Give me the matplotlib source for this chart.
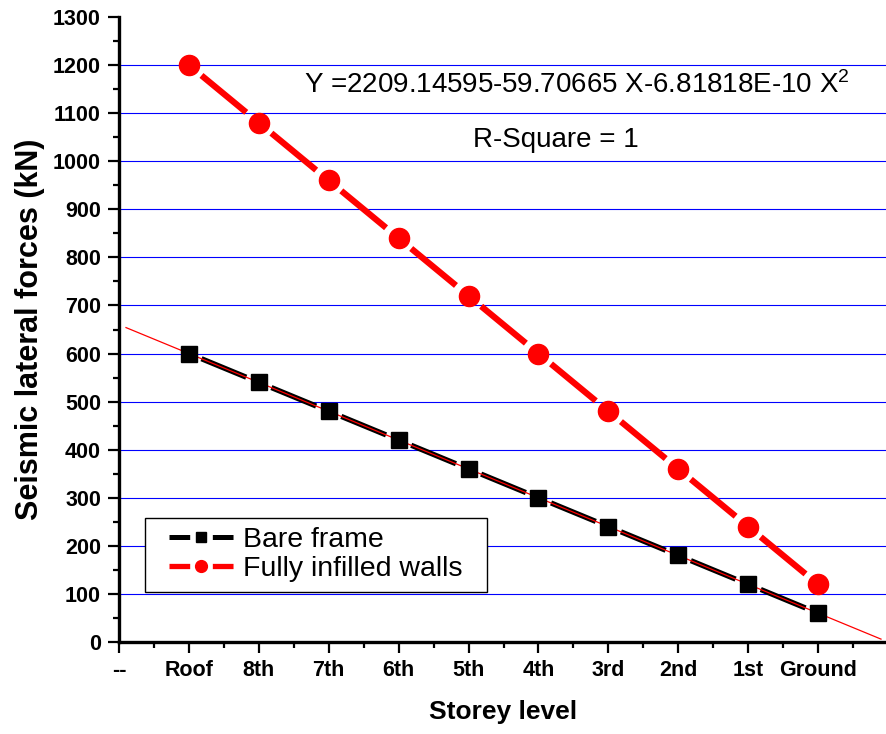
import matplotlib
matplotlib.use("Agg")
import matplotlib.pyplot as plt
import numpy as np
from matplotlib.lines import Line2D
from matplotlib.patches import Rectangle
from matplotlib.ticker import MultipleLocator

plt.rcParams['font.family'] = ['Liberation Sans', 'DejaVu Sans']
plt.rcParams['mathtext.fontset'] = 'custom'
plt.rcParams['mathtext.rm'] = 'Liberation Sans'
plt.rcParams['mathtext.it'] = 'Liberation Sans'
plt.rcParams['lines.scale_dashes'] = False

tick_labels = ["--", "Roof", "8th", "7th", "6th", "5th", "4th", "3rd", "2nd", "1st", "Ground", ""]
positions = [1, 2, 3, 4, 5, 6, 7, 8, 9, 10]
bare_frame = [600, 540, 480, 420, 360, 300, 240, 180, 120, 60]
infilled = [1200, 1080, 960, 840, 720, 600, 480, 360, 240, 120]
fit_x = [0.1, 10.9]
equation = "Y =2209.14595-59.70665 X-6.81818E-10 X$^2$"
rsq = "R-Square = 1"

fig = plt.figure(figsize=(8.87, 7.34), dpi=100)
ax = fig.add_axes([119/887, 92/734, 769/887, 625/734])

ax.set_xlim(0, 11)
ax.set_ylim(0, 1300)

for v in range(100, 1300, 100):
    ax.axhline(v, color='#0000ff', lw=0.8, zorder=1)

def gapped(xs, ys, color, lw, frac=0.18, z=3):
    for i in range(len(xs) - 1):
        x0, x1 = xs[i], xs[i + 1]
        y0, y1 = ys[i], ys[i + 1]
        ax.plot([x0 + frac * (x1 - x0), x1 - frac * (x1 - x0)],
                [y0 + frac * (y1 - y0), y1 - frac * (y1 - y0)],
                color=color, lw=lw, solid_capstyle='butt', zorder=z)

gapped(positions, bare_frame, 'black', 3.8)
gapped(positions, infilled, '#ff0000', 4.5)

# linear fit of bare frame
p = np.polyfit(positions, bare_frame, 1)
fx = np.array(fit_x)
ax.plot(fx, np.polyval(p, fx), color='#ff0000', lw=0.9, zorder=4)

ax.plot(positions, bare_frame, ls='none', marker='s', ms=12, color='black', zorder=5)
ax.plot(positions, infilled, ls='none', marker='o', ms=14.5, color='#ff0000', zorder=5)

ax.text(10.46, 1142, equation, fontsize=20, va='baseline', ha='right')
ax.text(5.06, 1030, rsq, fontsize=20, va='baseline', ha='left')

for s in ['top', 'right']:
    ax.spines[s].set_visible(False)
for s in ['left', 'bottom']:
    ax.spines[s].set_linewidth(2.4)

ax.set_xticks(range(len(tick_labels)))
ax.set_xticklabels(tick_labels, fontsize=15.5, fontweight='bold')
ax.xaxis.set_minor_locator(MultipleLocator(0.5))
ax.yaxis.set_major_locator(MultipleLocator(100))
ax.yaxis.set_minor_locator(MultipleLocator(50))
for lab in ax.get_yticklabels():
    lab.set_fontsize(15.5)
    lab.set_fontweight('bold')
ax.tick_params(which='major', length=8, width=1.6, direction='out', pad=5)
ax.tick_params(which='minor', length=4, width=1.6, direction='out')

ax.set_xlabel("Storey level", fontsize=19, fontweight='bold')
ax.set_ylabel("Seismic lateral forces (kN)", fontsize=22, fontweight='bold')
ax.xaxis.set_label_coords(0.5, -0.0928)
ax.yaxis.set_label_coords(-0.096, 0.5)

# legend frame
ax.add_patch(Rectangle((0.0338, 0.0808), 0.478 - 0.0338, 0.1992 - 0.0808,
                       transform=ax.transAxes, facecolor='white', edgecolor='black',
                       lw=1.0, zorder=9))
h1 = Line2D([], [], color='black', lw=3.6, marker='s', ms=7.5, dashes=(14.9, 16.3))
h2 = Line2D([], [], color='#ff0000', lw=3.8, marker='o', ms=8.5, dashes=(14.9, 16.3))
leg = ax.legend([h1, h2], ["Bare frame", "Fully infilled walls"], loc='center',
                bbox_to_anchor=(0.2559, 0.14), borderaxespad=0, fontsize=20.5,
                handlelength=2.25, numpoints=1, frameon=False,
                handletextpad=0.32, borderpad=0, labelspacing=0.12)
leg.set_zorder(10)

fig.savefig("out.png", dpi=100)
